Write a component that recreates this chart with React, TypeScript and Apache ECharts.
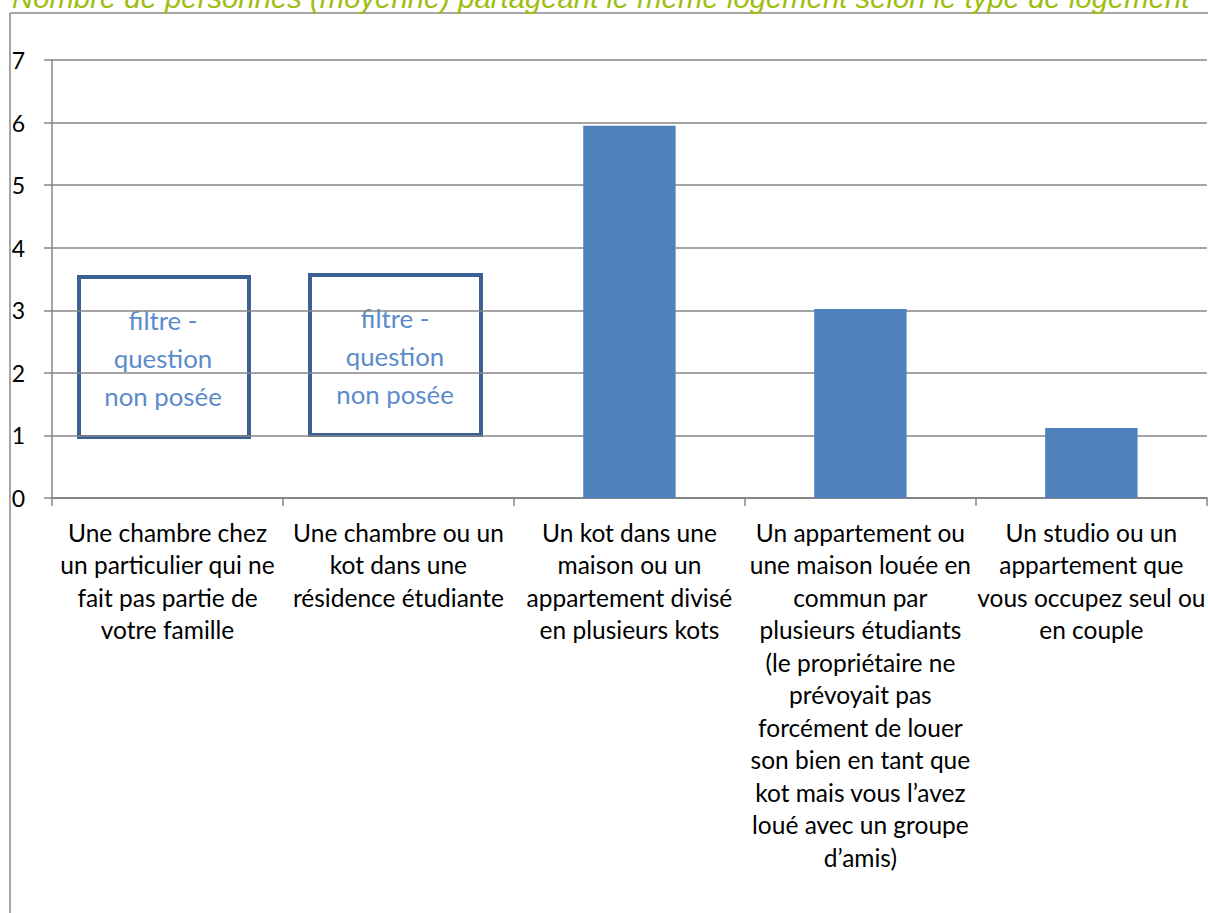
import React, { useEffect, useRef } from "react";
import * as echarts from "echarts";

const titleText =
  "Nombre de personnes (moyenne) partageant le même logement selon le type de logement";

const categories = [
  "Une chambre chez\nun particulier qui ne\nfait pas partie de\nvotre famille",
  "Une chambre ou un\nkot dans une\nrésidence étudiante",
  "Un kot dans une\nmaison ou un\nappartement divisé\nen plusieurs kots",
  "Un appartement ou\nune maison louée en\ncommun par\nplusieurs étudiants\n(le propriétaire ne\nprévoyait pas\nforcément de louer\nson bien en tant que\nkot mais vous l’avez\nloué avec un groupe\nd’amis)",
  "Un studio ou un\nappartement que\nvous occupez seul ou\nen couple",
];

const values: (number | null)[] = [null, null, 5.95, 3.02, 1.12];

const yTicks = { min: 0, max: 7, interval: 1 };

const filterNote = "filtre -\nquestion\nnon posée";

export default function App() {
  const ref = useRef<HTMLDivElement>(null);
  useEffect(() => {
    if (!ref.current) return;
    const chart = echarts.init(ref.current, undefined, { renderer: "svg" });
    const labelFont = "Lato, 'Open Sans', sans-serif";
    chart.setOption({
      animation: false,
      backgroundColor: "#ffffff",
      grid: { left: 52, right: -4, top: 60, bottom: 415, containLabel: false },
      xAxis: {
        type: "category",
        data: categories,
        axisLine: { show: true, lineStyle: { color: "#868686", width: 2 } },
        axisTick: { show: true, length: 8, alignWithLabel: false, lineStyle: { color: "#868686", width: 1.5 } },
        axisLabel: {
          interval: 0,
          color: "#000",
          fontFamily: labelFont,
          fontSize: 24.5,
          lineHeight: 32.5,
          margin: 18,
          align: "center",
        },
      },
      yAxis: {
        type: "value",
        min: yTicks.min,
        max: yTicks.max,
        interval: yTicks.interval,
        axisLine: { show: true, lineStyle: { color: "#868686", width: 1.5 } },
        axisTick: { show: true, length: 8, lineStyle: { color: "#868686", width: 1.5 } },
        splitLine: { show: true, lineStyle: { color: "#868686", width: 1.5 } },
        axisLabel: {
          color: "#000",
          fontFamily: labelFont,
          fontSize: 23,
          margin: 27,
          align: "right",
        },
      },
      series: [
        {
          type: "bar",
          data: values,
          barWidth: "40%",
          itemStyle: { color: "#4F81BD" },
        },
      ],
      graphic: [
        {
          type: "line",
          shape: { x1: 10, y1: 13, x2: 1208, y2: 13 },
          style: { stroke: "#888888", lineWidth: 1.5 },
        },
        {
          type: "line",
          shape: { x1: 10, y1: 13, x2: 10, y2: 913 },
          style: { stroke: "#888888", lineWidth: 1.5 },
        },
        {
          type: "text",
          x: 12,
          y: -2.5,
          style: {
            text: titleText,
            fill: "#9DBE0F",
            font: "italic 29.3px 'Liberation Sans', Arial, sans-serif",
            verticalAlign: "middle",
            align: "left",
          },
        },
        {
          type: "rect",
          shape: { x: 79, y: 277, width: 170, height: 160 },
          style: { fill: "rgba(255,255,255,0)", stroke: "#3A6191", lineWidth: 4 },
        },
        {
          type: "rect",
          shape: { x: 310, y: 275, width: 171, height: 160 },
          style: { fill: "rgba(255,255,255,0)", stroke: "#3A6191", lineWidth: 4 },
        },
        {
          type: "text",
          x: 163,
          y: 358,
          style: {
            text: filterNote,
            fill: "#5B8BCB",
            font: "25.8px Lato, 'Open Sans', sans-serif",
            lineHeight: 38,
            align: "center",
            verticalAlign: "middle",
          },
        },
        {
          type: "text",
          x: 395,
          y: 356,
          style: {
            text: filterNote,
            fill: "#5B8BCB",
            font: "25.8px Lato, 'Open Sans', sans-serif",
            lineHeight: 38,
            align: "center",
            verticalAlign: "middle",
          },
        },
      ],
    });
    return () => chart.dispose();
  }, []);
  return (
    <div
      ref={ref}
      style={{ position: "fixed", left: 0, top: 0, width: 1208, height: 913 }}
    />
  );
}
